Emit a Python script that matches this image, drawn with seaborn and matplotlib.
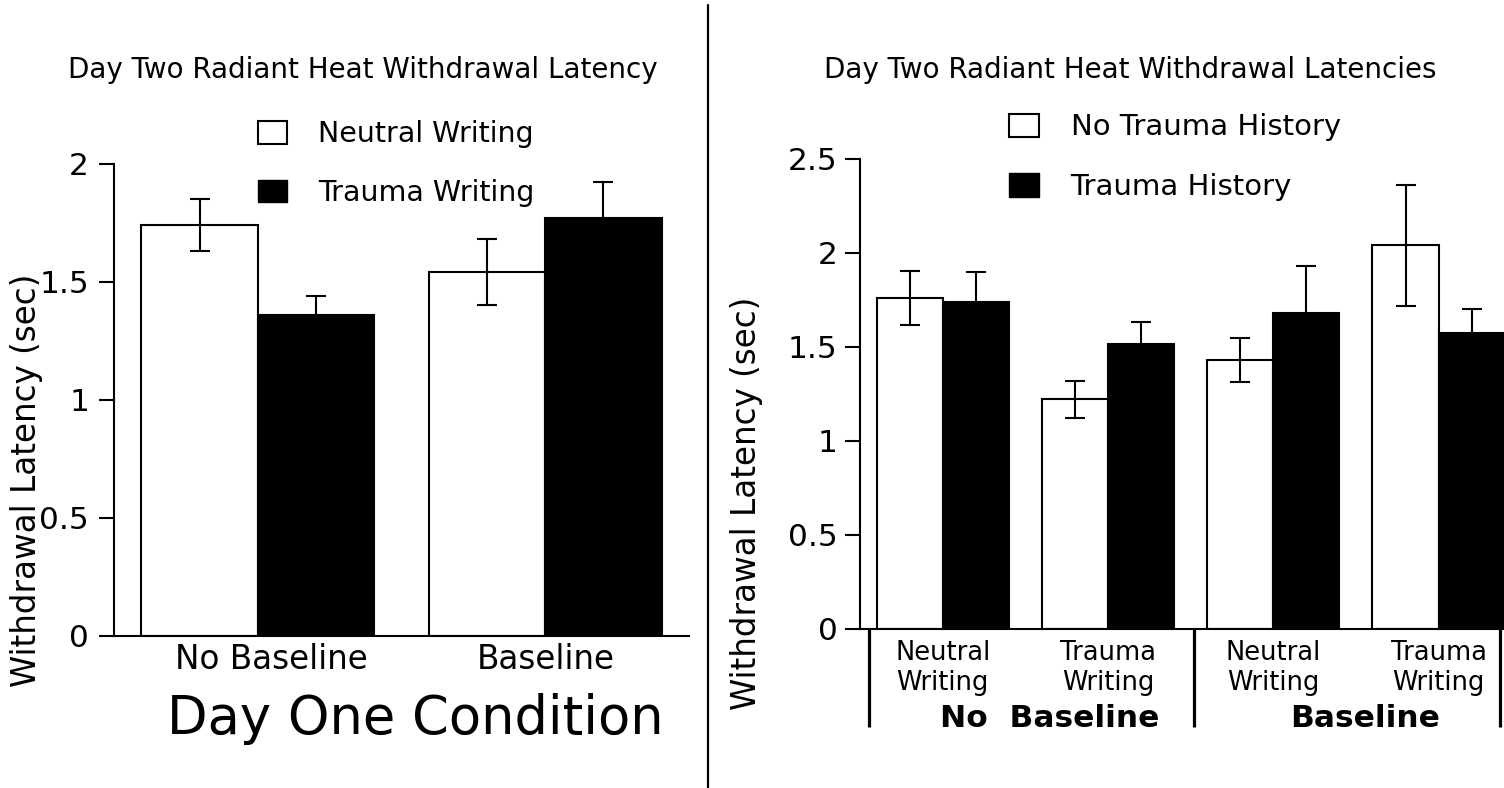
import pandas as pd
import seaborn as sns
import matplotlib.pyplot as plt
from matplotlib.patches import Patch
from matplotlib.lines import Line2D
from matplotlib.transforms import ScaledTranslation

OUT_FN = 'out.png'

# left panel: day one condition x writing type
LEFT_CONDITIONS = ['No Baseline', 'Baseline']
LEFT_GROUPS = ['Neutral Writing', 'Trauma Writing']
LEFT_NEUTRAL = [1.74, 1.54]
LEFT_NEUTRAL_ERR = [0.11, 0.14]
LEFT_TRAUMA = [1.36, 1.77]
LEFT_TRAUMA_ERR = [0.08, 0.15]

# right panel: baseline x writing type, split by trauma history
RIGHT_CATEGORIES = ['NB Neutral', 'NB Trauma', 'B Neutral', 'B Trauma']
RIGHT_TICK_LABELS = ['Neutral\nWriting', 'Trauma\nWriting', 'Neutral\nWriting', 'Trauma\nWriting']
RIGHT_GROUP_LABELS = ['No  Baseline', 'Baseline']
RIGHT_GROUPS = ['No Trauma History', 'Trauma History']
RIGHT_NO_TRAUMA = [1.76, 1.22, 1.43, 2.04]
RIGHT_NO_TRAUMA_ERR = [0.145, 0.10, 0.115, 0.32]
RIGHT_TRAUMA = [1.74, 1.515, 1.68, 1.575]
RIGHT_TRAUMA_ERR = [0.16, 0.115, 0.25, 0.125]

W, H = 1504, 788


def make_df(cats, groups, vals_a, errs_a, vals_b, errs_b):
    n = len(cats)
    return pd.DataFrame({
        'cond': list(cats) * 2,
        'group': [groups[0]] * n + [groups[1]] * n,
        'value': list(vals_a) + list(vals_b),
        'err': list(errs_a) + list(errs_b),
    })


def draw_bars(ax, df, order, hue_order, width, capsize):
    sns.barplot(data=df, x='cond', y='value', hue='group', order=order,
                hue_order=hue_order, palette=['white', 'black'], saturation=1,
                edgecolor='black', linewidth=1.5, width=width, errorbar=None,
                legend=False, ax=ax)
    for level, container in zip(hue_order, ax.containers):
        sub = df[df['group'] == level].set_index('cond').loc[order]
        xs = [p.get_x() + p.get_width() / 2 for p in container.patches]
        ax.errorbar(xs, sub['value'], yerr=sub['err'], fmt='none', ecolor='black',
                    elinewidth=1.5, capsize=capsize, capthick=1.5)


def style_axes(ax, ylabel_pad):
    sns.despine(ax=ax)
    for s in ['left', 'bottom']:
        ax.spines[s].set_linewidth(1.5)
    ax.tick_params(axis='y', length=11, width=1.5, labelsize=22.5, pad=ylabel_pad)
    ax.tick_params(axis='x', length=0)
    ax.set_xlabel('')


def add_legend(fig, groups, anchor, fontsize, spacing):
    handles = [Patch(facecolor='white', edgecolor='black', linewidth=1.5, label=groups[0]),
               Patch(facecolor='black', edgecolor='black', label=groups[1])]
    fig.legend(handles=handles, loc='upper left', bbox_to_anchor=anchor, frameon=False,
               fontsize=fontsize, handlelength=1.02, handleheight=0.84, handletextpad=1.09,
               labelspacing=spacing, borderpad=0, borderaxespad=0)


def plot_left(fig):
    ax = fig.add_axes([114 / W, 1 - 635.7 / H, 575 / W, 472.1 / H])
    df = make_df(LEFT_CONDITIONS, LEFT_GROUPS, LEFT_NEUTRAL, LEFT_NEUTRAL_ERR,
                 LEFT_TRAUMA, LEFT_TRAUMA_ERR)
    draw_bars(ax, df, LEFT_CONDITIONS, LEFT_GROUPS, 0.81, 7)
    ax.set_xlim(-0.5, 1.5)
    ax.set_ylim(0, 2)
    ax.set_yticks([0, 0.5, 1, 1.5, 2])
    ax.set_yticklabels(['0', '0.5', '1', '1.5', '2'])
    style_axes(ax, 7)
    ax.set_xticks(range(len(LEFT_CONDITIONS)))
    ax.set_xticklabels(LEFT_CONDITIONS, fontsize=23.5)
    ax.tick_params(axis='x', pad=5)
    first = ax.get_xticklabels()[0]
    first.set_transform(first.get_transform() + ScaledTranslation(0.14, 0, fig.dpi_scale_trans))
    ax.set_ylabel('Withdrawal Latency (sec)', fontsize=23.5)
    ax.yaxis.set_label_coords(-0.1235, 0.33)
    ax.set_xlabel('Day One Condition', fontsize=38)
    ax.xaxis.set_label_coords(0.5235, -0.122)
    fig.text(363 / W, 1 - 70 / H, 'Day Two Radiant Heat Withdrawal Latency',
             fontsize=20, ha='center', va='center')
    add_legend(fig, LEFT_GROUPS, (258 / W, 1 - 120.5 / H), 20.5, 1.07)


def plot_right(fig):
    ax = fig.add_axes([860 / W, 1 - 628.6 / H, 644.7 / W, 469.6 / H])
    df = make_df(RIGHT_CATEGORIES, RIGHT_GROUPS, RIGHT_NO_TRAUMA, RIGHT_NO_TRAUMA_ERR,
                 RIGHT_TRAUMA, RIGHT_TRAUMA_ERR)
    draw_bars(ax, df, RIGHT_CATEGORIES, RIGHT_GROUPS, 0.8, 7)
    ax.set_xlim(-0.5, 3.4)
    ax.set_ylim(0, 2.5)
    ax.set_yticks([0, 0.5, 1, 1.5, 2, 2.5])
    ax.set_yticklabels(['0', '0.5', '1', '1.5', '2', '2.5'])
    style_axes(ax, 5)
    ax.set_xticks(range(len(RIGHT_CATEGORIES)))
    ax.set_xticklabels(RIGHT_TICK_LABELS, fontsize=18.5)
    ax.tick_params(axis='x', pad=8)
    ax.set_ylabel('Withdrawal Latency (sec)', fontsize=23.5)
    ax.yaxis.set_label_coords(-0.150, 0.267)

    # group brackets under the axis
    trans = ax.get_xaxis_transform()
    for xb in [-0.446, 1.52, 3.37]:
        ax.plot([xb, xb], [0, -0.21], color='black', lw=2.3, transform=trans,
                clip_on=False, solid_capstyle='butt')
    for xc, lab in zip([0.649, 2.555], RIGHT_GROUP_LABELS):
        ax.text(xc, -0.1925, lab, transform=trans, fontsize=22.5, fontweight='bold',
                ha='center', va='center')

    fig.text(1130 / W, 1 - 70 / H, 'Day Two Radiant Heat Withdrawal Latencies',
             fontsize=20, ha='center', va='center')
    add_legend(fig, RIGHT_GROUPS, (1009 / W, 1 - 113.3 / H), 21, 1.09)


def main():
    sns.set_theme(style='ticks')
    plt.rcParams['font.family'] = ['DejaVu Sans']
    plt.rcParams.update({'text.color': 'black', 'axes.labelcolor': 'black',
                         'xtick.color': 'black', 'ytick.color': 'black',
                         'axes.edgecolor': 'black'})
    fig = plt.figure(figsize=(W / 100, H / 100), dpi=100)
    plot_left(fig)
    plot_right(fig)
    # divider between the two panels
    fig.add_artist(Line2D([708 / W, 708 / W], [0, 1 - 5 / H], transform=fig.transFigure,
                          color='black', lw=1.6))
    fig.savefig(OUT_FN, dpi=100, facecolor='white')


if __name__ == '__main__':
    main()
